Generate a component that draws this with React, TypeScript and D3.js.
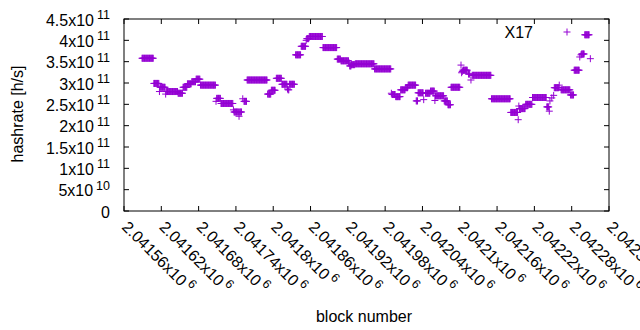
import React from 'react';
import * as d3 from 'd3';

// Runs of consecutive blocks sharing the same hashrate (start block, end block, value in h/s)
const runStart = [
  2041589, 2041608, 2041617, 2041618, 2041627, 2041628, 2041647, 2041655, 2041662, 2041669,
  2041676, 2041683, 2041708, 2041709, 2041716, 2041736, 2041737, 2041745, 2041746, 2041751,
  2041753, 2041758, 2041791, 2041797, 2041805, 2041814, 2041823, 2041824, 2041826, 2041836,
  2041845, 2041853, 2041854, 2041858, 2041880, 2041903, 2041909, 2041922, 2041923, 2041926,
  2041932, 2041963, 2041990, 2041991, 2041997, 2042005, 2042013, 2042017, 2042030, 2042033,
  2042042, 2042045, 2042053, 2042060, 2042061, 2042075, 2042081, 2042086, 2042102, 2042103,
  2042104, 2042105, 2042114, 2042118, 2042120, 2042151, 2042182, 2042194, 2042195, 2042196,
  2042206, 2042217, 2042240, 2042244, 2042245, 2042248, 2042251, 2042252, 2042260, 2042263,
  2042278, 2042284, 2042293, 2042295, 2042296, 2042301, 2042310,
];
const runEnd = [
  2041607, 2041616, 2041617, 2041626, 2041627, 2041646, 2041654, 2041661, 2041668, 2041675,
  2041682, 2041707, 2041708, 2041715, 2041735, 2041736, 2041744, 2041745, 2041749, 2041751,
  2041757, 2041790, 2041796, 2041803, 2041813, 2041822, 2041823, 2041825, 2041834, 2041844,
  2041852, 2041853, 2041857, 2041879, 2041902, 2041908, 2041921, 2041922, 2041925, 2041931,
  2041962, 2041989, 2041990, 2041996, 2042004, 2042012, 2042016, 2042029, 2042032, 2042041,
  2042042, 2042052, 2042059, 2042060, 2042074, 2042080, 2042085, 2042100, 2042102, 2042103,
  2042104, 2042112, 2042116, 2042118, 2042150, 2042181, 2042193, 2042194, 2042195, 2042205,
  2042216, 2042239, 2042243, 2042244, 2042245, 2042248, 2042251, 2042259, 2042260, 2042277,
  2042283, 2042292, 2042293, 2042295, 2042300, 2042308, 2042310,
];
const runValue = [
  3.58e11, 2.99e11, 2.80e11, 2.90e11, 2.74e11, 2.80e11, 2.76e11, 2.90e11, 2.98e11, 3.03e11,
  3.09e11, 2.95e11, 2.57e11, 2.64e11, 2.52e11, 2.37e11, 2.32e11, 2.22e11, 2.32e11, 2.63e11,
  2.57e11, 3.07e11, 2.74e11, 2.83e11, 3.11e11, 2.97e11, 2.86e11, 2.84e11, 2.97e11, 3.66e11,
  3.86e11, 4.00e11, 4.04e11, 4.09e11, 3.83e11, 3.56e11, 3.52e11, 3.47e11, 3.40e11, 3.43e11,
  3.45e11, 3.33e11, 2.76e11, 2.73e11, 2.68e11, 2.84e11, 2.89e11, 2.95e11, 2.58e11, 2.77e11,
  2.61e11, 2.76e11, 2.81e11, 2.59e11, 2.70e11, 2.58e11, 2.49e11, 2.90e11, 3.42e11, 3.24e11,
  3.27e11, 3.30e11, 3.21e11, 3.07e11, 3.18e11, 2.63e11, 2.31e11, 2.14e11, 2.46e11, 2.40e11,
  2.50e11, 2.66e11, 2.44e11, 2.34e11, 2.58e11, 2.65e11, 2.71e11, 2.89e11, 2.95e11, 2.84e11,
  2.72e11, 3.30e11, 3.61e11, 3.66e11, 3.68e11, 4.13e11, 3.57e11,
];

const yTickValues = [0, 5e10, 1e11, 1.5e11, 2e11, 2.5e11, 3e11, 3.5e11, 4e11, 4.5e11];
const yTickBase = ['0', '5x10', '1x10', '1.5x10', '2x10', '2.5x10', '3x10', '3.5x10', '4x10', '4.5x10'];
const yTickExp = ['', '10', '11', '11', '11', '11', '11', '11', '11', '11'];

const xTickValues = [
  2041560, 2041620, 2041680, 2041740, 2041800, 2041860, 2041920,
  2041980, 2042040, 2042100, 2042160, 2042220, 2042280, 2042340,
];
const xTickBase = [
  '2.04156x10', '2.04162x10', '2.04168x10', '2.04174x10', '2.0418x10', '2.04186x10', '2.04192x10',
  '2.04198x10', '2.04204x10', '2.0421x10', '2.04216x10', '2.04222x10', '2.04228x10', '2.04234x10',
];
const xTickExp = '6';

const seriesName = 'X17';
const xLabel = 'block number';
const yLabel = 'hashrate [h/s]';

export default function App() {
  const W = 640, H = 330;
  const left = 124, right = 609, top = 19, bottom = 211;
  const color = '#9400D3';
  const font = "'Liberation Sans', Arial, sans-serif";
  const fs = 16;
  const sup = 12.5;

  const x = d3.scaleLinear().domain([2041560, 2042340]).range([left, right]);
  const y = d3.scaleLinear().domain([0, 4.5e11]).range([bottom, top]);

  const points: [number, number][] = [];
  runStart.forEach((s, i) => {
    for (let b = s; b <= runEnd[i]; b++) points.push([b, runValue[i]]);
  });
  const h = 3.5;
  const plus = (px: number, py: number) =>
    `M${px - h},${py}H${px + h}M${px},${py - h}V${py + h}`;
  const dataPath = points.map(([b, v]) => plus(x(b), y(v))).join('');

  const tl = 5;
  return (
    <svg width={W} height={H} style={{ position: 'absolute', left: 0, top: 0, background: '#fff' }}
      fontFamily={font} fontSize={fs}>
      <rect x={0} y={0} width={W} height={H} fill="#fff" />
      {yTickValues.map((v, i) => (
        <g key={'yt' + i}>
          <line x1={left} x2={left + tl} y1={y(v)} y2={y(v)} stroke="#000" />
          <line x1={right} x2={right - tl} y1={y(v)} y2={y(v)} stroke="#000" />
          <text x={110} y={y(v) + 1} textAnchor="end" dominantBaseline="central" fill="#000">
            {yTickBase[i]}
            {yTickExp[i] && (
              <tspan dx={3} dy={-5} fontSize={sup}>{yTickExp[i]}</tspan>
            )}
          </text>
        </g>
      ))}
      {xTickValues.map((v, i) => (
        <g key={'xt' + i}>
          <line x1={x(v)} x2={x(v)} y1={bottom} y2={bottom - tl} stroke="#000" />
          <line x1={x(v)} x2={x(v)} y1={top} y2={top + tl} stroke="#000" />
          <text transform={`translate(${x(v) + 1},224) rotate(45)`} textAnchor="start"
            dominantBaseline="central" fill="#000">
            {xTickBase[i]}
            <tspan dx={3} dy={-5} fontSize={sup}>{xTickExp}</tspan>
          </text>
        </g>
      ))}
      <rect x={left} y={top} width={right - left} height={bottom - top} fill="none" stroke="#000" />
      <path d={dataPath} stroke={color} strokeWidth={1} fill="none" />
      <text x={533} y={32} textAnchor="end" dominantBaseline="central" fill="#000">{seriesName}</text>
      <path d={plus(567, 32)} stroke={color} strokeWidth={1} fill="none" />
      <text transform="translate(17,114) rotate(-90)" textAnchor="middle" dominantBaseline="central" fill="#000">{yLabel}</text>
      <text x={364} y={316} textAnchor="middle" dominantBaseline="central" fill="#000">{xLabel}</text>
    </svg>
  );
}
